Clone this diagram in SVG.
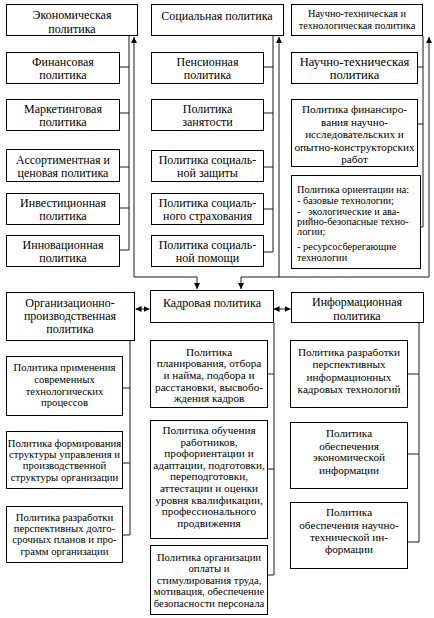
<svg xmlns="http://www.w3.org/2000/svg" width="434" height="618" viewBox="0 0 434 618">
<style>
rect.b{fill:#fff;stroke:#000;stroke-width:1}
text{font-family:'Liberation Serif','Times New Roman',serif;fill:#000;text-anchor:middle}
.f12{font-size:12px}
.f11{font-size:11.2px}
.f107{font-size:10.7px}
.f10{font-size:10.3px}
.l{text-anchor:start}
.c path{stroke:#1a1a1a;stroke-width:1;fill:none}
</style>
<defs>
<marker id="ar" markerWidth="6" markerHeight="6" refX="6" refY="3" orient="auto-start-reverse" markerUnits="userSpaceOnUse">
<path d="M0,0 L6,3 L0,6 z" fill="#000"/>
</marker>
</defs>
<rect width="434" height="618" fill="#fff"/>

<g class="c" id="connectors">
<path d="M129,36 V250 M119,67 H129 M119,113 H129 M119,167 H129 M119,208 H129 M119,250 H129"/>
<path d="M273,36 V252 M264,67 H273 M264,113 H273 M264,167 H273 M264,209 H273 M264,252 H273"/>
<path d="M423,36 V227 M418,67 H423 M418,124 H423 M421,227 H423"/>
<path d="M134,37 V277 H197 V289" marker-start="url(#ar)" marker-end="url(#ar)"/>
<path d="M279,37 V277 H241 V289" marker-start="url(#ar)" marker-end="url(#ar)"/>
<path d="M429,37 V277 H279" marker-start="url(#ar)"/>
<path d="M135.5,309 H149.5" marker-start="url(#ar)" marker-end="url(#ar)"/>
<path d="M273.5,309 H290.5" marker-start="url(#ar)" marker-end="url(#ar)"/>
<path d="M130,341 V535 M123,388 H130 M123,463 H130 M123,535 H130"/>
<path d="M274,323 V575 M268,374 H274 M268,469 H274 M268,575 H274"/>
<path d="M419,323 V542 M408,374 H419 M408,454 H419 M408,542 H419"/>
</g>

<g font-family="'Liberation Serif', 'Times New Roman', serif">
<g id="econ">
<rect class="b" x="6.5" y="4.5" width="131" height="31"/>
<text class="f12" x="72" y="19">Экономическая</text>
<text class="f12" x="72" y="32.5">политика</text>
</g>
<g id="econ-fin">
<rect class="b" x="6.5" y="52.5" width="113" height="31"/>
<text class="f12" x="63" y="66">Финансовая</text>
<text class="f12" x="63" y="79">политика</text>
</g>
<g id="econ-mark">
<rect class="b" x="6.5" y="99.5" width="113" height="31"/>
<text class="f12" x="63" y="113">Маркетинговая</text>
<text class="f12" x="63" y="126">политика</text>
</g>
<g id="econ-assort">
<rect class="b" x="6.5" y="149.5" width="113" height="32"/>
<text class="f12" x="63" y="164">Ассортиментная и</text>
<text class="f12" x="63" y="177">ценовая политика</text>
</g>
<g id="econ-invest">
<rect class="b" x="6.5" y="193.5" width="113" height="31"/>
<text class="f12" x="63" y="207">Инвестиционная</text>
<text class="f12" x="63" y="220">политика</text>
</g>
<g id="econ-innov">
<rect class="b" x="6.5" y="235.5" width="113" height="31"/>
<text class="f12" x="63" y="249">Инновационная</text>
<text class="f12" x="63" y="262">политика</text>
</g>

<g id="social">
<rect class="b" x="151.5" y="4.5" width="132" height="31"/>
<text class="f12" x="217" y="20">Социальная политика</text>
</g>
<g id="soc-pens">
<rect class="b" x="151.5" y="52.5" width="112" height="31"/>
<text class="f12" x="207.5" y="66">Пенсионная</text>
<text class="f12" x="207.5" y="79">политика</text>
</g>
<g id="soc-empl">
<rect class="b" x="151.5" y="99.5" width="112" height="31"/>
<text class="f12" x="207.5" y="113">Политика</text>
<text class="f12" x="207.5" y="126">занятости</text>
</g>
<g id="soc-prot">
<rect class="b" x="151.5" y="150.5" width="112" height="31"/>
<text class="f12" x="207.5" y="164">Политика социаль-</text>
<text class="f12" x="207.5" y="177">ной защиты</text>
</g>
<g id="soc-ins">
<rect class="b" x="151.5" y="193.5" width="112" height="31"/>
<text class="f12" x="207.5" y="207">Политика социаль-</text>
<text class="f12" x="207.5" y="220">ного страхования</text>
</g>
<g id="soc-help">
<rect class="b" x="151.5" y="235.5" width="112" height="31"/>
<text class="f12" x="207.5" y="249">Политика социаль-</text>
<text class="f12" x="207.5" y="262">ной помощи</text>
</g>

<g id="sci">
<rect class="b" x="291.5" y="4.5" width="131" height="31"/>
<text class="f10" x="357" y="17">Научно-техническая и</text>
<text class="f10" x="357" y="28.5">технологическая политика</text>
</g>
<g id="sci-nt">
<rect class="b" x="291.5" y="52.5" width="126" height="31"/>
<text style="font-size:12.6px" x="354.5" y="66">Научно-техническая</text>
<text style="font-size:12.6px" x="354.5" y="79">политика</text>
</g>
<g id="sci-fin">
<rect class="b" x="291.5" y="99.5" width="126" height="67"/>
<text class="f11" x="354.5" y="113">Политика финансиро-</text>
<text class="f11" x="354.5" y="125.5">вания научно-</text>
<text class="f11" x="354.5" y="138">исследовательских и</text>
<text class="f11" x="354.5" y="150.5">опытно-конструкторских</text>
<text class="f11" x="354.5" y="163">работ</text>
</g>
<g id="sci-orient">
<rect class="b" x="291.5" y="175.5" width="129" height="93"/>
<text class="f10 l" x="297" y="193">Политика ориентации на:</text>
<text class="f10 l" x="297" y="204">- базовые технологии;</text>
<text class="f10 l" x="297" y="215" xml:space="preserve">-   экологические и ава-</text>
<text class="f10 l" x="297" y="225">рийно-безопасные техно-</text>
<text class="f10 l" x="297" y="235">логии;</text>
<text class="f10 l" x="297" y="250">- ресурсосберегающие</text>
<text class="f10 l" x="297" y="261">технологии</text>
</g>

<g id="org">
<rect class="b" x="6.5" y="292.5" width="128" height="48"/>
<text class="f12" x="70" y="307">Организационно-</text>
<text class="f12" x="70" y="320">производственная</text>
<text class="f12" x="70" y="333">политика</text>
</g>
<g id="org-tech">
<rect class="b" x="6.5" y="356.5" width="116" height="59"/>
<text class="f107" x="64.5" y="371">Политика применения</text>
<text class="f107" x="64.5" y="383">современных</text>
<text class="f107" x="64.5" y="394.5">технологических</text>
<text class="f107" x="64.5" y="406">процессов</text>
</g>
<g id="org-struct">
<rect class="b" x="6.5" y="431.5" width="116" height="57"/>
<text class="f107" x="64.5" y="447">Политика формирования</text>
<text class="f107" x="64.5" y="458">структуры управления и</text>
<text class="f107" x="64.5" y="469">производственной</text>
<text class="f107" x="64.5" y="481">структуры организации</text>
</g>
<g id="org-plan">
<rect class="b" x="6.5" y="506.5" width="116" height="56"/>
<text class="f107" x="64.5" y="521">Политика разработки</text>
<text class="f107" x="64.5" y="532">перспективных долго-</text>
<text class="f107" x="64.5" y="543">срочных планов и про-</text>
<text class="f107" x="64.5" y="555">грамм организации</text>
</g>

<g id="hr">
<rect class="b" x="150.5" y="290.5" width="123" height="32"/>
<text class="f12" x="212" y="307">Кадровая политика</text>
</g>
<g id="hr-plan">
<rect class="b" x="150.5" y="340.5" width="117" height="67"/>
<text class="f11" x="209" y="356">Политика</text>
<text class="f11" x="209" y="367">планирования, отбора</text>
<text class="f11" x="209" y="379">и найма, подбора и</text>
<text class="f11" x="209" y="391">расстановки, высвобо-</text>
<text class="f11" x="209" y="402">ждения кадров</text>
</g>
<g id="hr-train">
<rect class="b" x="150.5" y="420.5" width="117" height="118"/>
<text class="f11" x="209" y="434">Политика обучения</text>
<text class="f11" x="209" y="445.6">работников,</text>
<text class="f11" x="209" y="457.2">профориентации и</text>
<text class="f11" x="209" y="468.8">адаптации, подготовки,</text>
<text class="f11" x="209" y="480.4">переподготовки,</text>
<text class="f11" x="209" y="492">аттестации и оценки</text>
<text class="f11" x="209" y="503.6">уровня квалификации,</text>
<text class="f11" x="209" y="515.2">профессионального</text>
<text class="f11" x="209" y="526.8">продвижения</text>
</g>
<g id="hr-pay">
<rect class="b" x="150.5" y="545.5" width="117" height="69"/>
<text class="f107" x="209" y="561">Политика организации</text>
<text class="f107" x="209" y="572">оплаты и</text>
<text class="f107" x="209" y="583.5">стимулирования труда,</text>
<text class="f107" x="209" y="595">мотивация, обеспечение</text>
<text class="f107" x="209" y="607">безопасности персонала</text>
</g>

<g id="info">
<rect class="b" x="291.5" y="292.5" width="132" height="30"/>
<text class="f12" x="357" y="306">Информационная</text>
<text class="f12" x="357" y="319.5">политика</text>
</g>
<g id="info-tech">
<rect class="b" x="290.5" y="340.5" width="117" height="67"/>
<text class="f11" x="349" y="356">Политика разработки</text>
<text class="f11" x="349" y="368">перспективных</text>
<text class="f11" x="349" y="381">информационных</text>
<text class="f11" x="349" y="393">кадровых технологий</text>
</g>
<g id="info-econ">
<rect class="b" x="290.5" y="422.5" width="117" height="66"/>
<text class="f11" x="349" y="437">Политика</text>
<text class="f11" x="349" y="450">обеспечения</text>
<text class="f11" x="349" y="461">экономической</text>
<text class="f11" x="349" y="474">информации</text>
</g>
<g id="info-sci">
<rect class="b" x="290.5" y="502.5" width="117" height="66"/>
<text class="f11" x="349" y="516">Политика</text>
<text class="f11" x="349" y="529">обеспечения научно-</text>
<text class="f11" x="349" y="541">технической ин-</text>
<text class="f11" x="349" y="553">формации</text>
</g>
</g>
</svg>
